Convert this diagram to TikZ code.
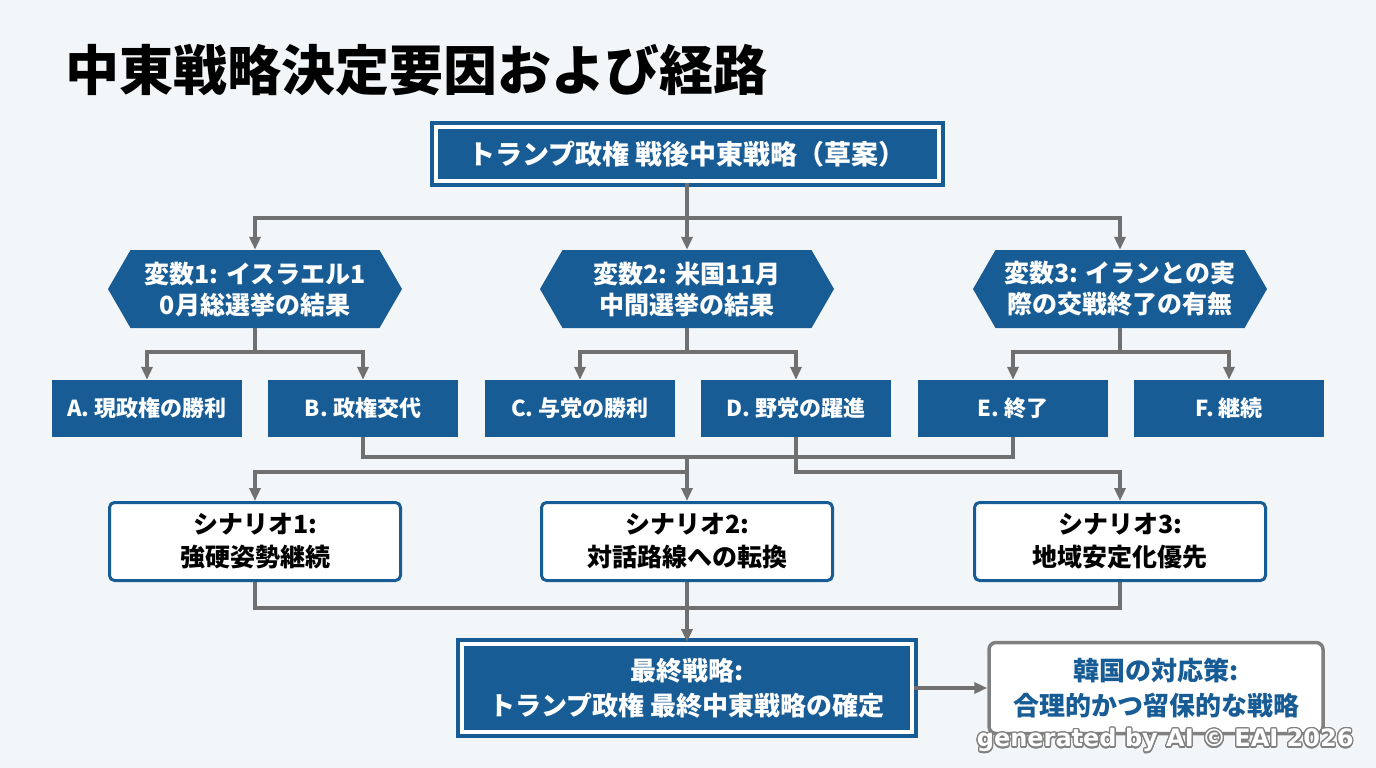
\documentclass[tikz,border=0pt]{standalone}
\usepackage{fontspec}
\setmainfont{Noto Sans CJK JP}
\newfontfamily\markfont{DejaVu Sans}
\usepackage{contour}
\contourlength{1.3pt}
\definecolor{eaiblue}{RGB}{24,92,150}
\definecolor{paper}{RGB}{243,246,248}
\definecolor{wire}{RGB}{112,112,112}
\definecolor{rim}{RGB}{128,128,128}
\usetikzlibrary{arrows.meta,shapes.symbols}
\tikzset{
  headbox/.style={draw=eaiblue, fill=eaiblue, line width=4pt, double=white, double distance=4pt,
              text=white, inner sep=0pt, align=center},
  varhex/.style={shape=signal, signal to=west and east, signal pointer angle=120, fill=eaiblue,
              text=white, inner sep=0pt, align=center, minimum width=294pt, minimum height=78pt,
              font=\bfseries\fontsize{25}{31}\selectfont},
  optbox/.style={fill=eaiblue, text=white, inner sep=0pt, minimum width=190pt, minimum height=57pt,
              font=\bfseries\fontsize{22}{26}\selectfont},
  scenbox/.style={draw=eaiblue, line width=3pt, fill=white, rounded corners=5pt, inner sep=0pt,
              minimum width=291pt, minimum height=78pt, align=center,
              font=\bfseries\fontsize{25}{33}\selectfont},
  kbox/.style={draw=rim, line width=3.5pt, fill=white, rounded corners=7pt, inner sep=0pt,
              minimum width=334pt, minimum height=91pt, align=center, text=eaiblue,
              font=\bfseries\fontsize{26}{35}\selectfont},
  link/.style={wire, line width=3.5pt},
  flow/.style={link, -{Triangle[length=13pt,width=11pt]}},
}

\begin{document}
\begin{tikzpicture}[x=1pt, y=-1pt]
        \useasboundingbox (0,0) rectangle (1376,768);
        \fill[paper] (0,0) rectangle (1376,768);

        \node[anchor=base west, font=\bfseries\fontsize{54}{60}\selectfont] (title) at (62,91) {中東戦略決定要因および経路};

        \node[headbox, minimum width=503pt, minimum height=54pt, font=\bfseries\fontsize{27}{32}\selectfont] (draft) at (687,154) {トランプ政権 戦後中東戦略（草案）};

        \node[varhex] (var1) at (255,289)  {変数1: イスラエル1\\0月総選挙の結果};
        \node[varhex] (var2) at (687,289)  {変数2: 米国11月\\中間選挙の結果};
        \node[varhex] (var3) at (1120,289) {変数3: イランとの実\\際の交戦終了の有無};

        \node[optbox] (optA) at (147,408.5)  {A. 現政権の勝利};
        \node[optbox] (optB) at (363,408.5)  {B. 政権交代};
        \node[optbox] (optC) at (580,408.5)  {C. 与党の勝利};
        \node[optbox] (optD) at (796,408.5)  {D. 野党の躍進};
        \node[optbox] (optE) at (1013,408.5) {E. 終了};
        \node[optbox] (optF) at (1229,408.5) {F. 継続};

        \node[scenbox] (scen1) at (255,541.5)  {シナリオ1:\\強硬姿勢継続};
        \node[scenbox] (scen2) at (687,541.5)  {シナリオ2:\\対話路線への転換};
        \node[scenbox] (scen3) at (1120,541.5) {シナリオ3:\\地域安定化優先};

        \node[headbox, minimum width=450pt, minimum height=88pt, font=\bfseries\fontsize{26}{35}\selectfont] (final) at (687,688) {最終戦略:\\トランプ政権 最終中東戦略の確定};
        \node[kbox] (korea) at (1156,688) {韓国の対応策:\\合理的かつ留保的な戦略};

        \node[anchor=east, font=\markfont\bfseries\fontsize{24}{28}\selectfont, text=white] (mark) at (1357,741) {\contour{rim}{generated by AI © EAI 2026}};

        % junctions
        \coordinate (j1) at (687,218);
        \coordinate (j2) at (255,352);
        \coordinate (j3) at (687,352);
        \coordinate (j4) at (1120,352);
        \coordinate (m1) at (687,457);
        \coordinate (m2) at (687,472);
        \coordinate (m3) at (1120,472);
        \coordinate (j5) at (687,608);

        \draw[flow] (draft.south) -- (var2.north);
        \draw[flow] (j1) -| (var1.north);
        \draw[flow] (j1) -| (var3.north);

        \draw[link] (var1.south) -- (j2);
        \draw[flow] (j2) -| (optA.north);
        \draw[flow] (j2) -| (optB.north);
        \draw[link] (var2.south) -- (j3);
        \draw[flow] (j3) -| (optC.north);
        \draw[flow] (j3) -| (optD.north);
        \draw[link] (var3.south) -- (j4);
        \draw[flow] (j4) -| (optE.north);
        \draw[flow] (j4) -| (optF.north);

        \draw[link] (optB.south) |- (m1) -| (optE.south);
        \draw[flow] (m1) -- (scen2.north);
        \draw[flow] (m2) -| (scen1.north);
        \draw[flow] (optD.south) |- (m3) -- (scen3.north);

        \draw[link] (scen1.south) |- (j5) -| (scen3.south);
        \draw[flow] (scen2.south) -- (final.north);
        \draw[flow] (final.east) -- (korea.west);
      \end{tikzpicture}
\end{document}
